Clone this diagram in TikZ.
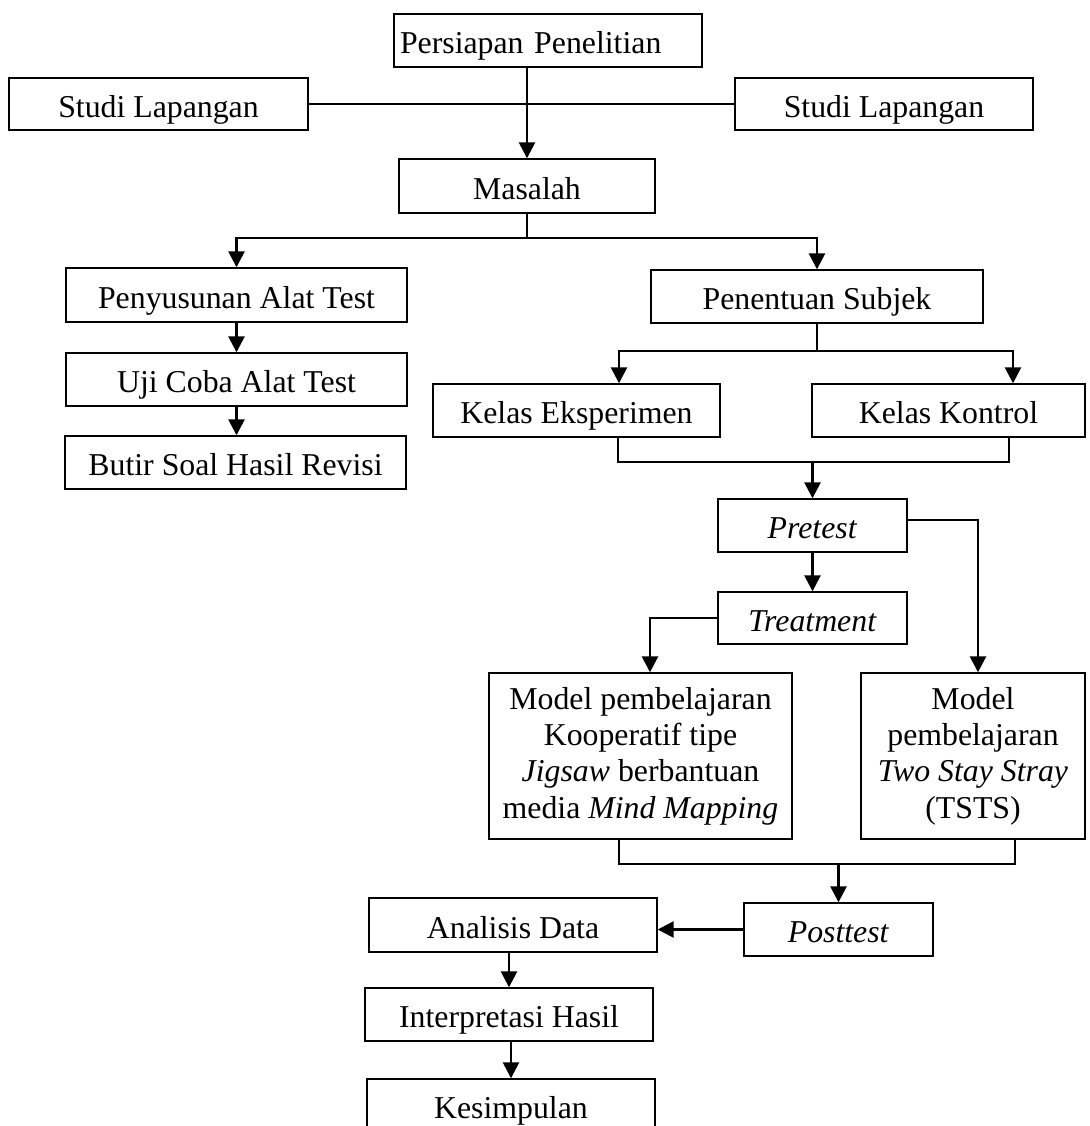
\documentclass[tikz,border=0pt]{standalone}
\usepackage{fontspec}
\setmainfont{Liberation Serif}
\usetikzlibrary{arrows.meta}
\begin{document}
\begin{tikzpicture}[x=0.5pt,y=-0.5pt,
  box/.style={draw, line width=0.7pt, inner sep=0pt, align=center,
    font=\fontsize{15.9}{18.15}\selectfont, text height=16.5pt, text depth=3.5pt},
  mbox/.style={draw, line width=0.7pt, inner sep=0pt, align=center,
    font=\fontsize{15.9}{18.15}\selectfont},
  conn/.style={line width=1.3pt},
  arr/.style={line width=1.3pt, -{Triangle[width=8pt,length=8pt]}}]
\useasboundingbox (0,0) rectangle (1089,1126);
\clip (0,0) rectangle (1089,1126);
% boxes
\node[box, minimum height=26.5pt, text width=148pt, inner xsep=3pt, align=left] (pp) at (548,40.5) {Persiapan Penelitian};
\node[box, minimum width=149.5pt, minimum height=26pt] (sl1) at (158.5,104) {Studi Lapangan};
\node[box, minimum width=149pt, minimum height=26pt] (sl2) at (884,104) {Studi Lapangan};
\node[box, minimum width=128pt, minimum height=27pt] (ms) at (527,186) {Masalah};
\node[box, minimum width=170.5pt, minimum height=27pt] (pa) at (236.5,295) {Penyusunan Alat Test};
\node[box, minimum width=170.5pt, minimum height=26.5pt] (uc) at (236.5,379.5) {Uji Coba Alat Test};
\node[box, minimum width=170.5pt, minimum height=26.5pt] (bs) at (235.5,462.5) {Butir Soal Hasil Revisi};
\node[box, minimum width=166pt, minimum height=26.5pt] (ps) at (817,296.5) {Penentuan Subjek};
\node[box, minimum width=143.5pt, minimum height=26.5pt] (ke) at (576.5,410.5) {Kelas Eksperimen};
\node[box, minimum width=136.5pt, minimum height=26.5pt] (kk) at (948.5,410.5) {Kelas Kontrol};
\node[box, minimum width=94.5pt, minimum height=26.5pt] (pre) at (812.5,525.5) {\textit{Pretest}};
\node[box, minimum width=94.5pt, minimum height=26pt] (tr) at (812.5,618) {\textit{Treatment}};
\node[mbox, minimum width=151.5pt, minimum height=83pt] (mj) at (640.5,756) {Model pembelajaran\\Kooperatif tipe\\\textit{Jigsaw} berbantuan\\media \textit{Mind Mapping}};
\node[mbox, minimum width=112pt, minimum height=83pt] (mt) at (973,756) {Model\\pembelajaran\\\textit{Two Stay Stray}\\(TSTS)};
\node[box, minimum width=94.5pt, minimum height=26.5pt] (po) at (838.5,929.5) {\textit{Posttest}};
\node[box, minimum width=144pt, minimum height=27pt] (ad) at (513,925) {Analisis Data};
\node[box, minimum width=144pt, minimum height=26.5pt] (ih) at (509,1014.5) {Interpretasi Hasil};
\node[box, minimum width=144pt, minimum height=26.5pt] (ks) at (511,1105.5) {Kesimpulan};
% connectors
\draw[conn] (sl1.east) -- (sl2.west);
\draw[arr] (ms.north |- pp.south) -- (ms.north);
\coordinate (j1) at (527,238);
\draw[conn] (ms.south) -- (j1);
\draw[arr] (j1) -| (pa.north);
\draw[arr] (j1) -| (ps.north);
\draw[arr] (pa.south) -- (uc.north);
\draw[arr] (uc.south) -- (uc.south |- bs.north);
\coordinate (j2) at (817,351);
\draw[conn] (ps.south) -- (j2);
\draw[arr] (j2) -| ([xshift=21.25pt]ke.north);
\draw[arr] (j2) -| ([xshift=32.25pt]kk.north);
\coordinate (j3) at (812.5,462);
\draw[conn] ([xshift=20.75pt]ke.south) |- (j3) -| ([xshift=30.25pt]kk.south);
\draw[arr] (j3) -- (pre.north);
\draw[arr] (pre.south) -- (tr.north);
\draw[arr] ([yshift=2.75pt]pre.east) -| ([xshift=2.5pt]mt.north);
\draw[arr] (tr.west) -| ([xshift=4.75pt]mj.north);
\coordinate (j4) at (838.5,864);
\draw[conn] ([xshift=-10.75pt]mj.south) |- (j4) -| ([xshift=21pt]mt.south);
\draw[arr] (j4) -- (po.north);
\draw[arr] (po.west) -- (po.west -| ad.east);
\draw[arr] (ih.north |- ad.south) -- (ih.north);
\draw[arr] (ks.north |- ih.south) -- (ks.north);
\end{tikzpicture}
\end{document}
